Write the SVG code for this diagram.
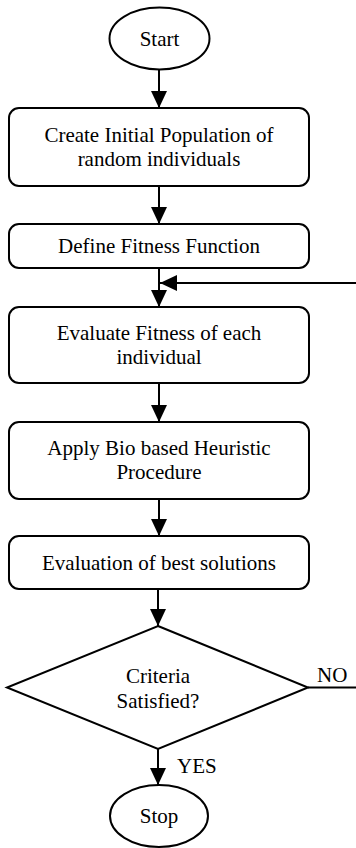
<svg xmlns="http://www.w3.org/2000/svg" width="356" height="848" viewBox="0 0 356 848">
  <style>
    .shape { fill: #ffffff; stroke: #000000; stroke-width: 2; }
    .line { fill: none; stroke: #000000; stroke-width: 2; }
    text { font-size: 21px; fill: #000000; }
    .label { text-anchor: middle; }
  </style>
  <defs>
    <marker id="head" viewBox="0 0 17 16" refX="17" refY="8" markerWidth="17" markerHeight="16" markerUnits="userSpaceOnUse" orient="auto">
      <path d="M0,0 L17,8 L0,16 Z" fill="#000000"/>
    </marker>
  </defs>

  <g font-family="'Liberation Serif', 'DejaVu Serif', serif">
  <!-- connectors -->
  <g id="connectors">
    <line class="line" x1="159" y1="70" x2="159" y2="108" marker-end="url(#head)"/>
    <line class="line" x1="159" y1="186" x2="159" y2="224" marker-end="url(#head)"/>
    <line class="line" x1="159" y1="268" x2="159" y2="307" marker-end="url(#head)"/>
    <line class="line" x1="356" y1="283" x2="160" y2="283" marker-end="url(#head)"/>
    <line class="line" x1="159" y1="383" x2="159" y2="422" marker-end="url(#head)"/>
    <line class="line" x1="159" y1="499" x2="159" y2="536" marker-end="url(#head)"/>
    <line class="line" x1="158" y1="589" x2="158" y2="626" marker-end="url(#head)"/>
    <line class="line" x1="308" y1="687.5" x2="356" y2="687.5"/>
    <line class="line" x1="158" y1="749" x2="158" y2="785" marker-end="url(#head)"/>
    <text x="317" y="682">NO</text>
    <text x="177" y="773">YES</text>
  </g>

  <g id="start">
    <ellipse class="shape" cx="159.5" cy="38.5" rx="50" ry="31"/>
    <text class="label" x="159.5" y="46">Start</text>
  </g>

  <g id="create-population">
    <rect class="shape" x="9" y="108" width="300" height="78" rx="10"/>
    <text class="label" x="159" y="142">Create Initial Population of</text>
    <text class="label" x="159" y="166">random individuals</text>
  </g>

  <g id="define-fitness">
    <rect class="shape" x="9" y="224" width="300" height="44" rx="10"/>
    <text class="label" x="159" y="253">Define Fitness Function</text>
  </g>

  <g id="evaluate-fitness">
    <rect class="shape" x="9" y="307" width="300" height="76" rx="10"/>
    <text class="label" x="159" y="340">Evaluate Fitness of each</text>
    <text class="label" x="159" y="364">individual</text>
  </g>

  <g id="heuristic">
    <rect class="shape" x="9" y="422" width="300" height="77" rx="10"/>
    <text class="label" x="159" y="455">Apply Bio based Heuristic</text>
    <text class="label" x="159" y="479">Procedure</text>
  </g>

  <g id="best-solutions">
    <rect class="shape" x="9" y="536" width="300" height="53" rx="10"/>
    <text class="label" x="159" y="570">Evaluation of best solutions</text>
  </g>

  <g id="criteria">
    <polygon class="shape" points="158,626 308,687.5 158,749 7,687.5"/>
    <text class="label" x="158" y="683">Criteria</text>
    <text class="label" x="158" y="708">Satisfied?</text>
  </g>

  <g id="stop">
    <ellipse class="shape" cx="159" cy="816" rx="49" ry="31"/>
    <text class="label" x="159" y="823">Stop</text>
  </g>
  </g>
</svg>
